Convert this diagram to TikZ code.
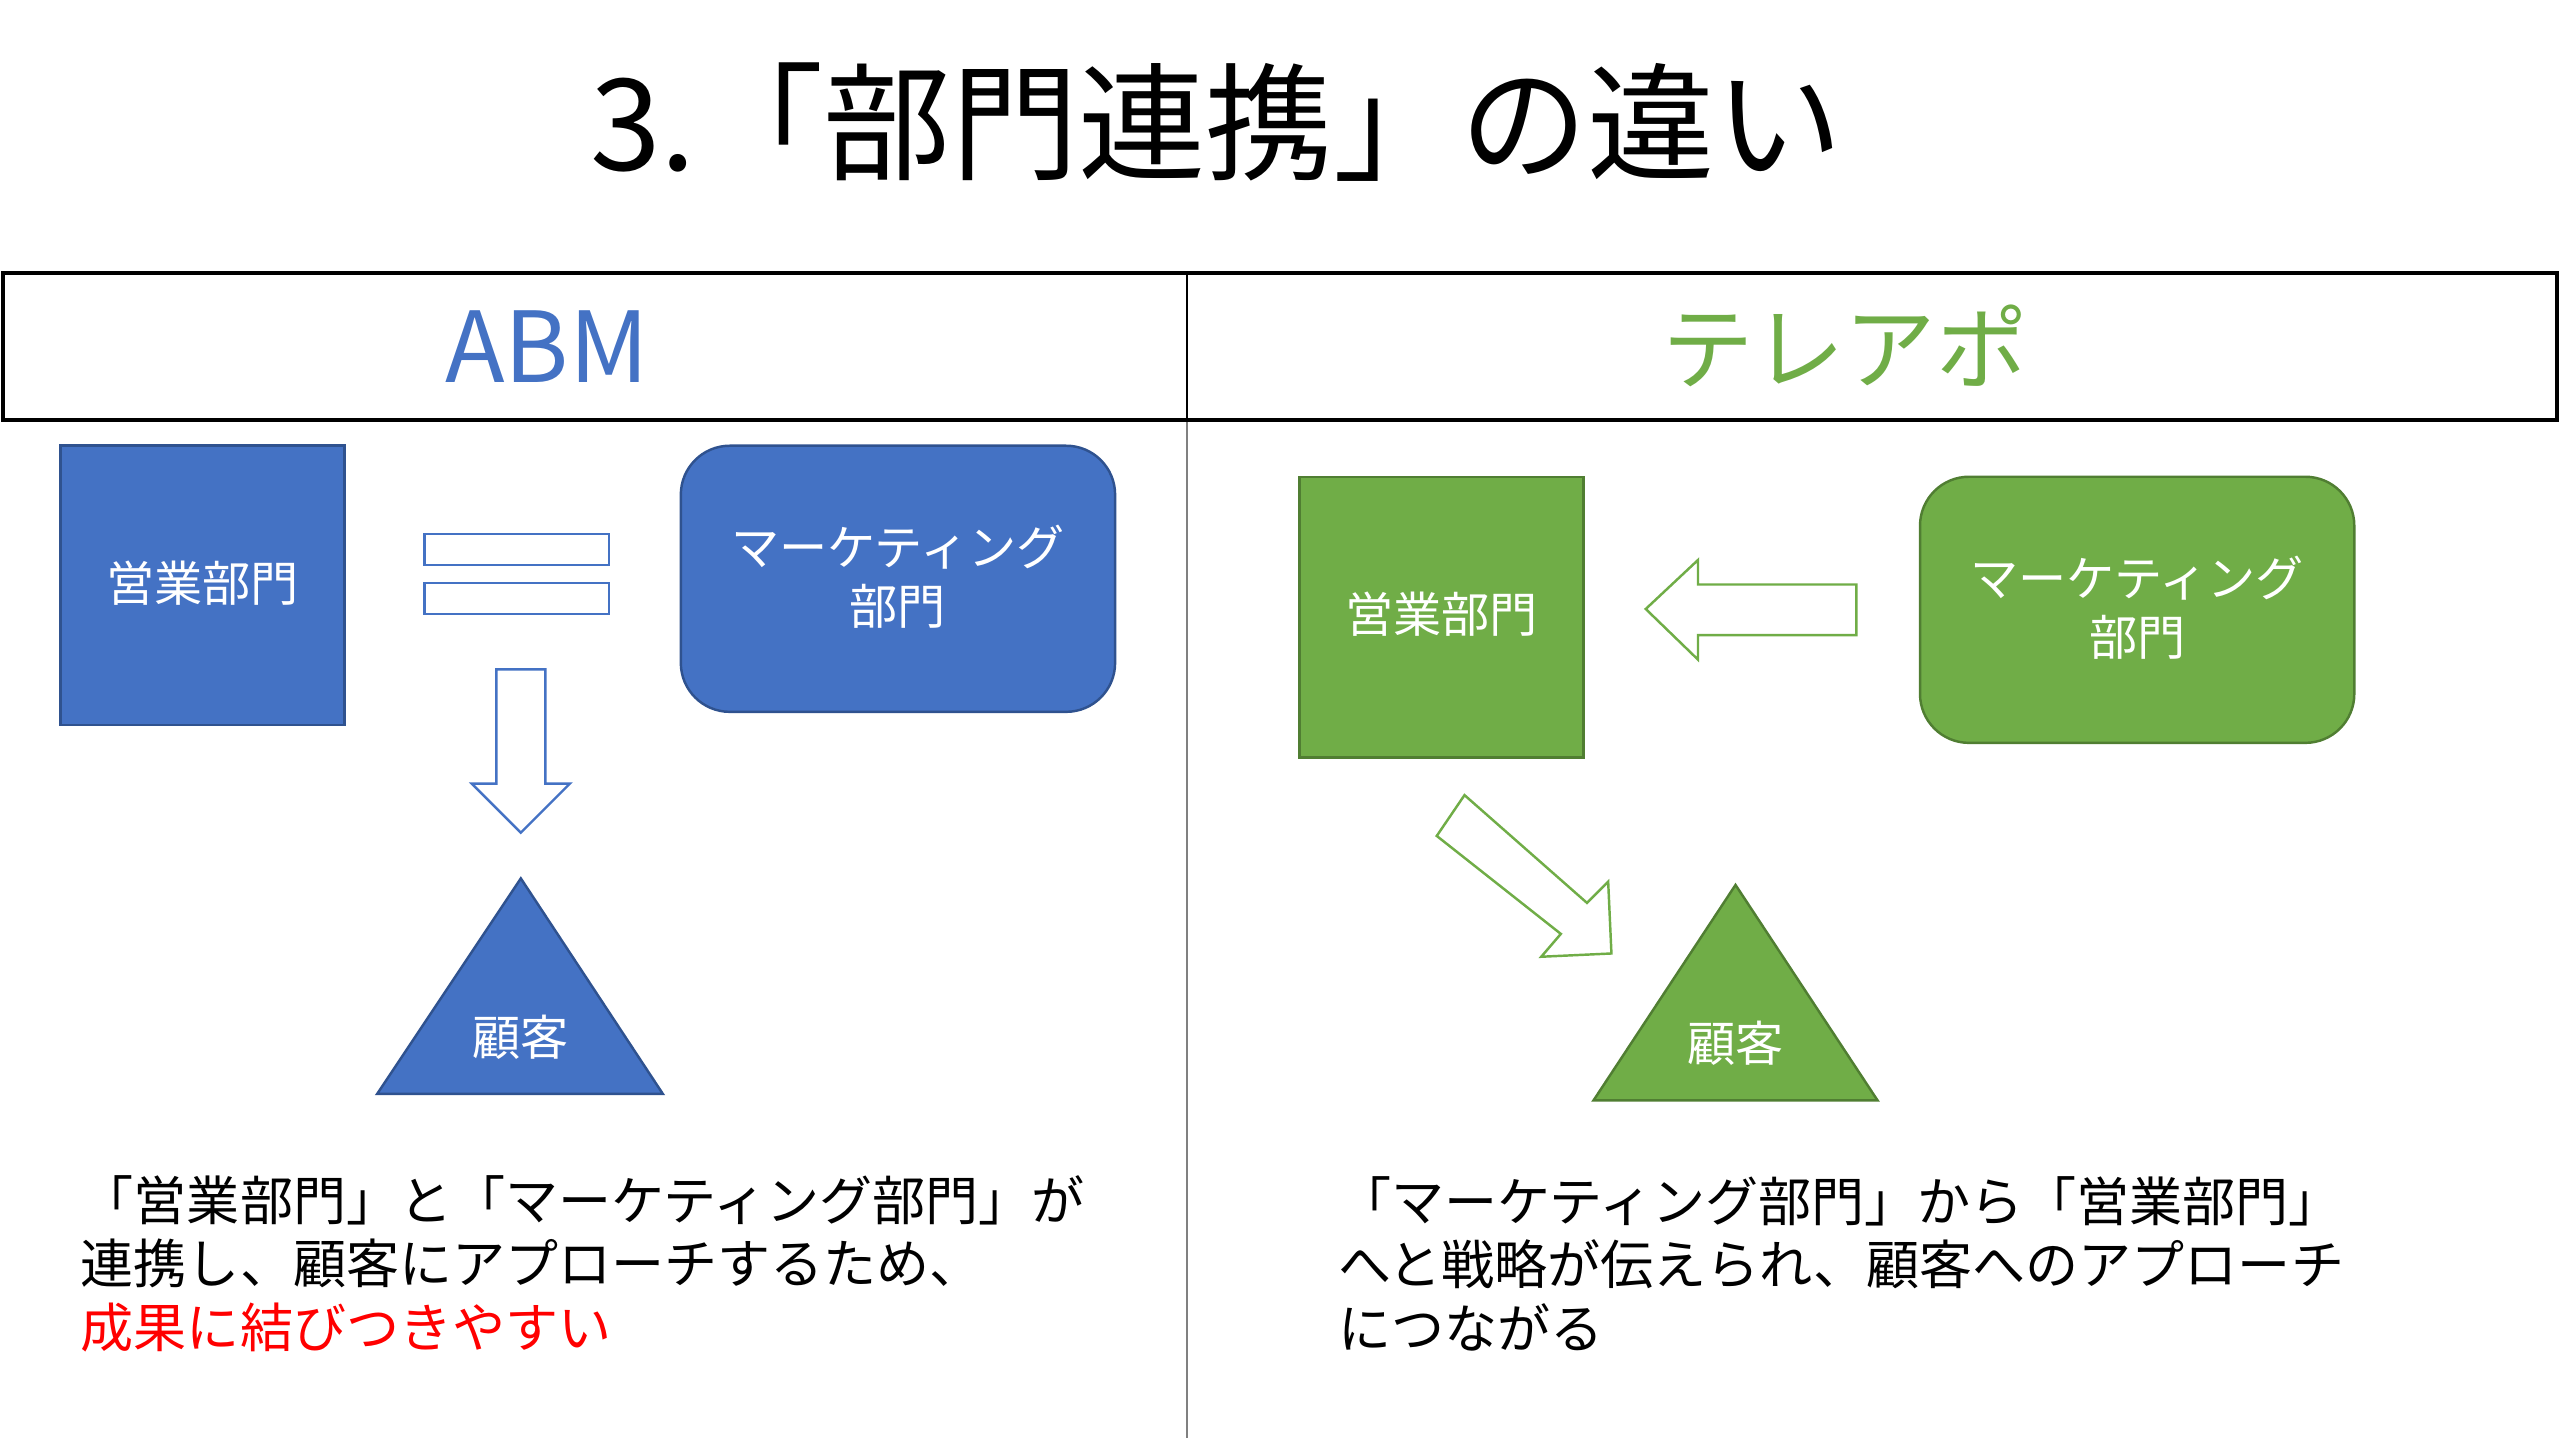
\documentclass[tikz,border=0pt]{standalone}
\usepackage{fontspec}
\setmainfont{Noto Sans CJK JP}
\definecolor{bl}{HTML}{4472C4}\definecolor{bld}{HTML}{2F528F}
\definecolor{gr}{HTML}{70AD47}\definecolor{grd}{HTML}{507E32}
\begin{document}
\begin{tikzpicture}[x=1pt,y=-1pt,
 lbl/.style={text=white,font=\fontsize{29.5}{36}\selectfont,align=center},
 body/.style={anchor=west,font=\fontsize{32.5}{39}\selectfont,align=left},
 barrow/.style={draw=bl,line width=1.5pt,fill=white},
 garrow/.style={draw=gr,line width=1.5pt,fill=white}]
\useasboundingbox (0,0) rectangle (1568,881);
\node (title) at (745,75) {\fontsize{78}{90}\selectfont 3.「部門連携」の違い};
\draw[gray,line width=1pt] (727,257) -- (727,881);
\draw[line width=2.5pt] (2,167) rectangle (1566,257);
\draw[line width=1pt] (727,167) -- (727,257);
\node[text=bl] (abm) at (335,212) {\fontsize{60}{60}\selectfont ABM};
\node[text=gr] (tel) at (1130,212) {\fontsize{56}{60}\selectfont テレアポ};
% left
\draw[fill=bl,draw=bld,line width=1.5pt] (37,273) rectangle (211,444);
\node[lbl] (s1) at (124,357) {営業部門};
\draw[barrow] (260,327) rectangle (373,346);
\draw[barrow] (260,357) rectangle (373,376);
\draw[barrow] (304,410) -- (334,410) -- (334,480) -- (349,480) -- (319,510) -- (289,480) -- (304,480) -- cycle;
\draw[fill=bl,draw=bld,line width=1.5pt,rounded corners=30pt] (417,273) rectangle (683,436);
\node[lbl] (m1) at (550,353) {マーケティング\\部門};
\draw[fill=bl,draw=bld,line width=1.5pt] (319,538) -- (406,670) -- (231,670) -- cycle;
\node[lbl] (c1) at (319,635) {顧客};
\node[body] (t1) at (46,774) {「営業部門」と「マーケティング部門」が\\連携し、顧客にアプローチするため、\\\textcolor{red}{成果に結びつきやすい}};
% right
\draw[fill=gr,draw=grd,line width=1.5pt] (796,292) rectangle (970,464);
\node[lbl] (s2) at (883,376) {営業部門};
\draw[garrow] (1137,358) -- (1040,358) -- (1040,343) -- (1008,373) -- (1040,404) -- (1040,389) -- (1137,389) -- cycle;
\draw[fill=gr,draw=grd,line width=1.5pt,rounded corners=30pt] (1176,292) rectangle (1442,455);
\node[lbl] (m2) at (1309,372) {マーケティング\\部門};
\draw[garrow] (880,512) -- (897,487) -- (972,553) -- (985,540) -- (987,584) -- (944,586) -- (956,572) -- cycle;
\draw[fill=gr,draw=grd,line width=1.5pt] (1063,542) -- (1150,674) -- (976,674) -- cycle;
\node[lbl] (c2) at (1063,639) {顧客};
\node[body] (t2) at (816,774) {「マーケティング部門」から「営業部門」\\へと戦略が伝えられ、顧客へのアプローチ\\につながる};
\end{tikzpicture}
\end{document}
